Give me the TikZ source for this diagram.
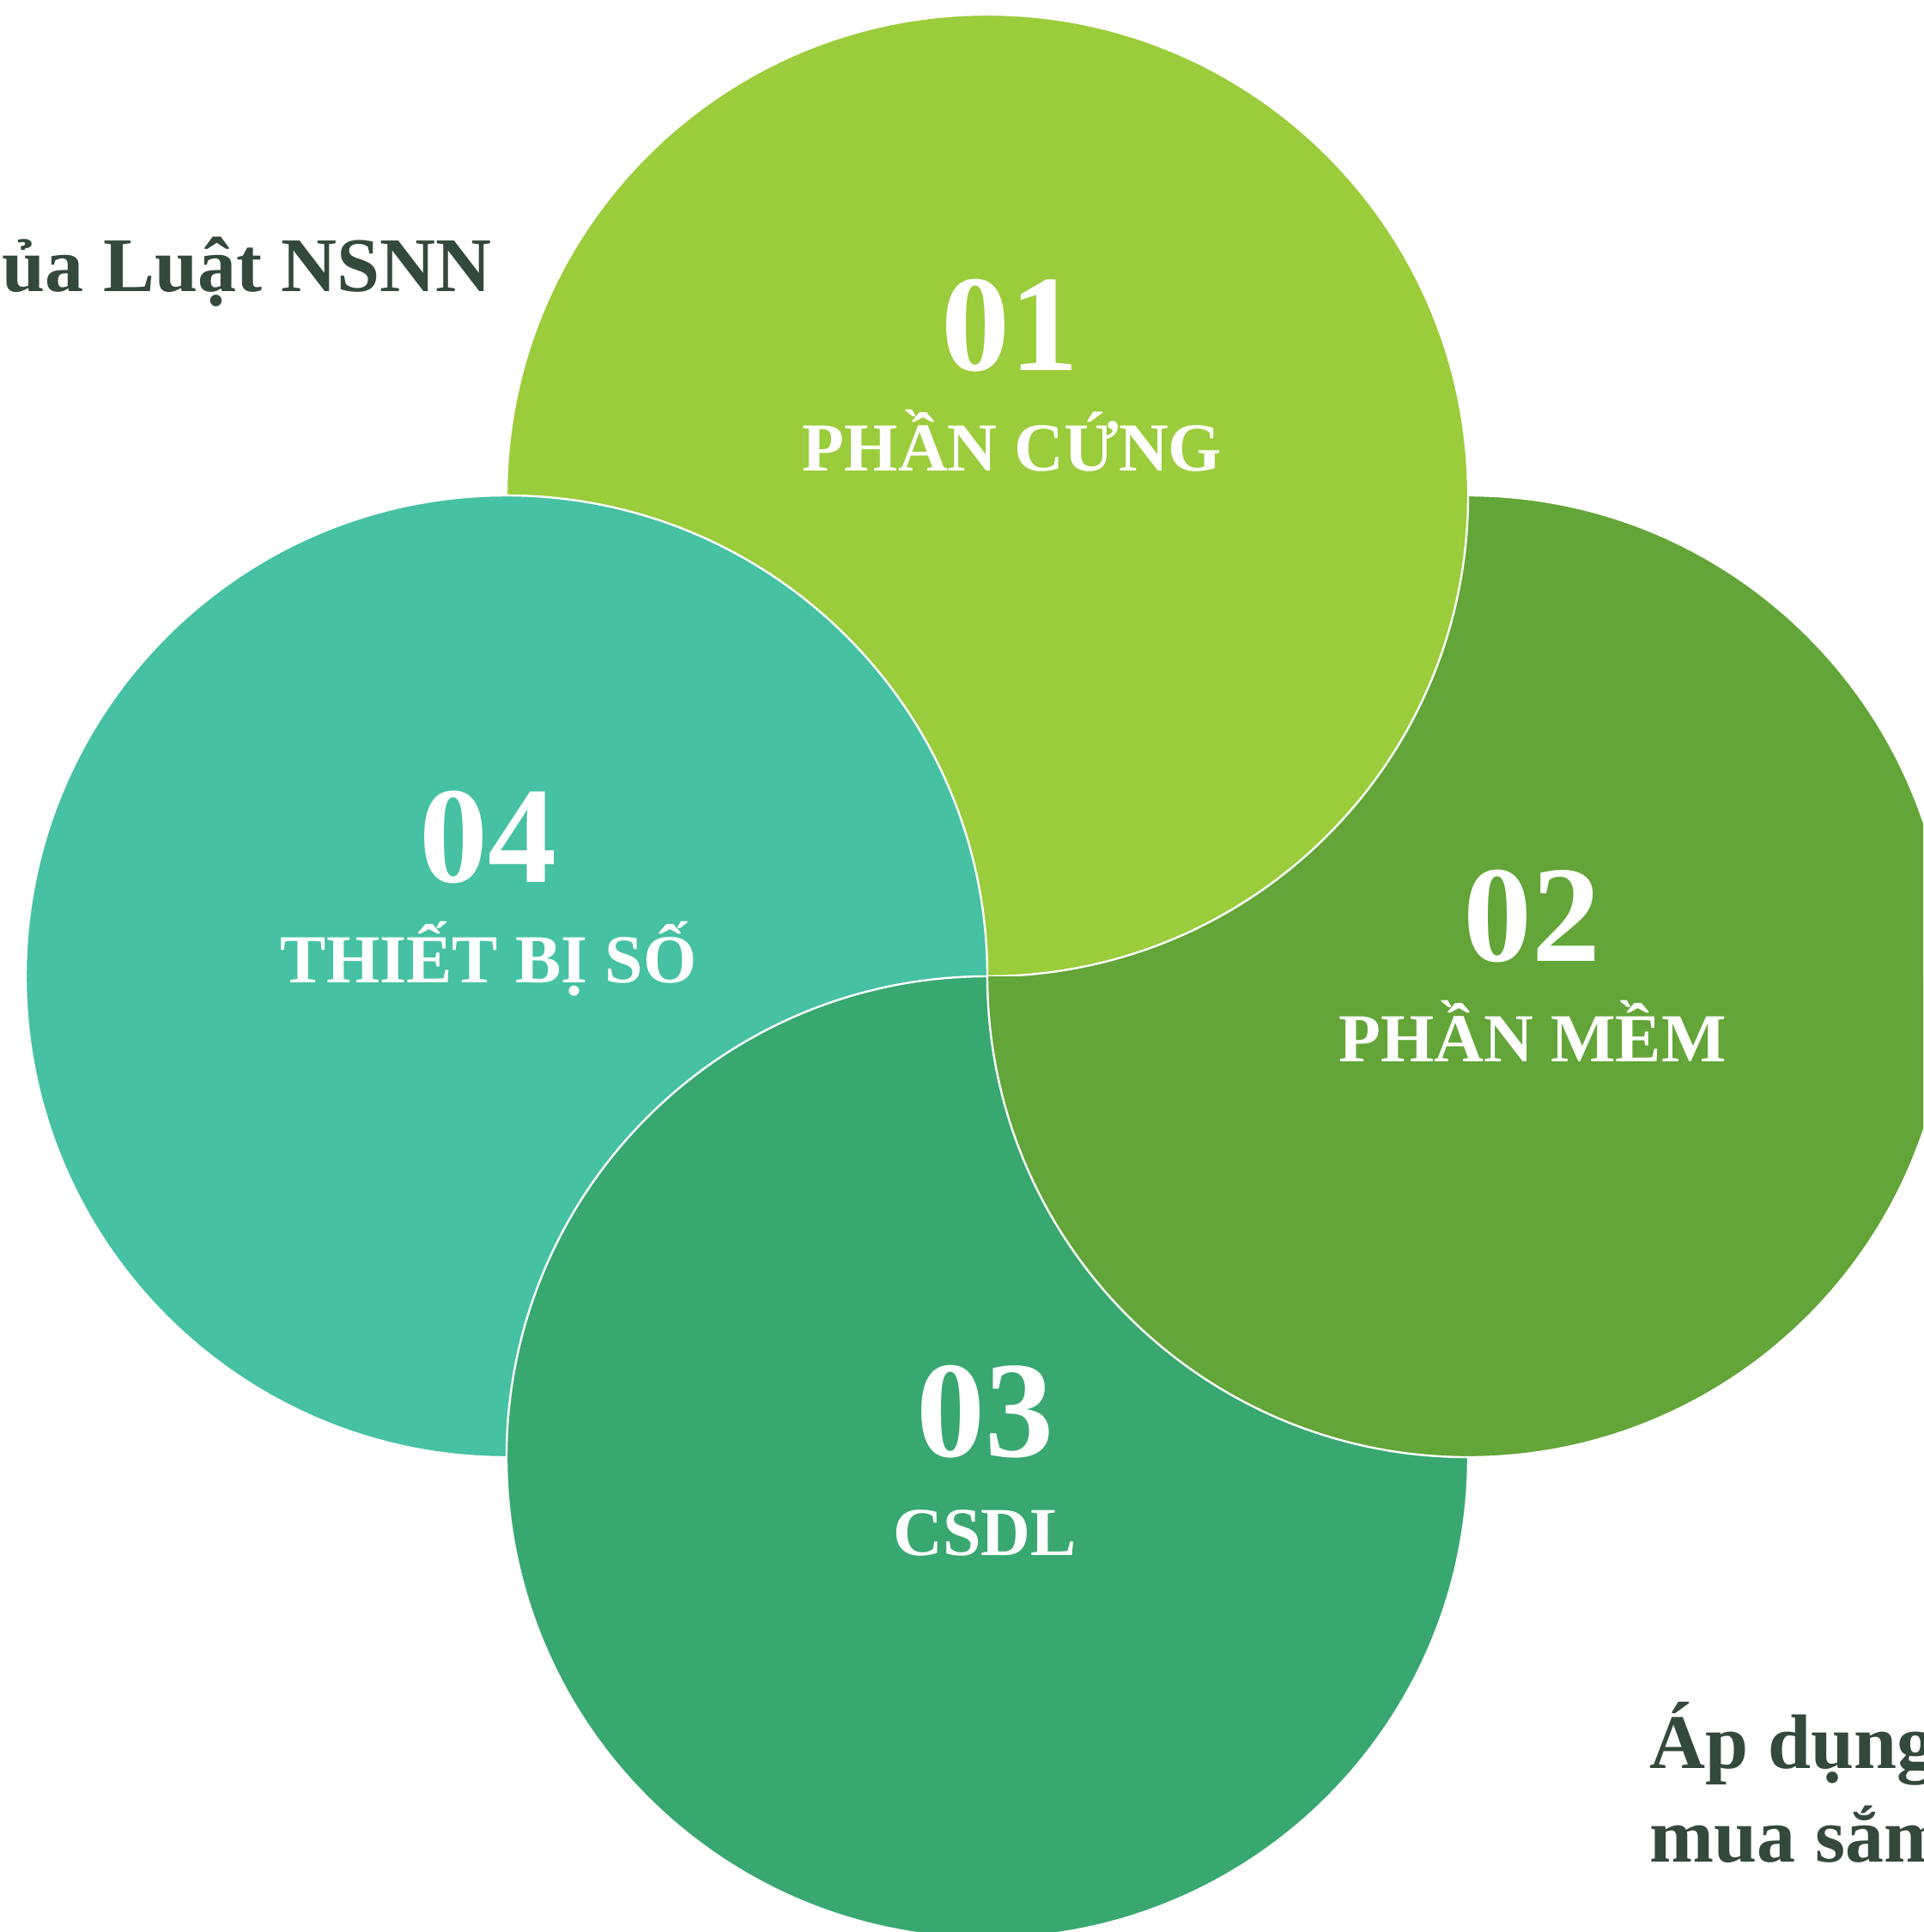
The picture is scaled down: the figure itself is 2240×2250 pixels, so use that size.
\documentclass[tikz,border=0pt]{standalone}
\usepackage{fontspec}
\setmainfont{Liberation Serif}
\definecolor{cHard}{HTML}{9BCC3B}
\definecolor{cSoft}{HTML}{63A538}
\definecolor{cData}{HTML}{38A870}
\definecolor{cDev}{HTML}{46C1A3}
\definecolor{cNote}{HTML}{33493B}
\begin{document}
\begin{tikzpicture}[x=0.25pt,y=-0.25pt,
  every node/.append style={inner sep=0pt},
  petal/.style={fill=#1,draw=white,line width=0.6pt},
  num/.style={text=white,anchor=base,font=\bfseries\fontsize{40pt}{48pt}\selectfont},
  lbl/.style={text=white,anchor=base,font=\bfseries\fontsize{20pt}{24pt}\selectfont},
  note/.style={text=cNote,anchor=base west,font=\bfseries\fontsize{22.5pt}{27pt}\selectfont}]
\useasboundingbox (0,0) rectangle (2240,2250);
\clip (0,0) rectangle (2240,2250);
% circles: 02 under 01, 01 under 04, 04 under 03, 03 under the lower half of 02
\draw [petal=cSoft] (1710,1137) circle [radius=560];
\draw [petal=cHard] (1150,577) circle [radius=560];
\draw [petal=cDev] (590,1137) circle [radius=560];
\draw [petal=cData] (1150,1697) circle [radius=560];
\begin{scope}
\clip (1100,1137) rectangle (2240,2250);
\draw [petal=cSoft] (1710,1137) circle [radius=560];
\end{scope}
% numbers and labels
\node [num] (n01) at (1176,431) {01};
\node [lbl] (t01) at (1179,548) {PHẦN CỨNG};
\node [num] (n02) at (1784,1119) {02};
\node [lbl] (t02) at (1785,1236) {PHẦN MỀM};
\node [num] (n03) at (1147,1696) {03};
\node [lbl] (t03) at (1147,1811) {CSDL};
\node [num] (n04) at (568,1027) {04};
\node [lbl] (t04) at (569,1144) {THIẾT BỊ SỐ};
% side texts, cut by the page edge
\node [note] (law) at (2,339) {ủa Luật NSNN};
\node [note] (apply1) at (1921,2059) {Áp dụng};
\node [note] (apply2) at (1921,2168) {mua sắm};
\end{tikzpicture}
\end{document}
